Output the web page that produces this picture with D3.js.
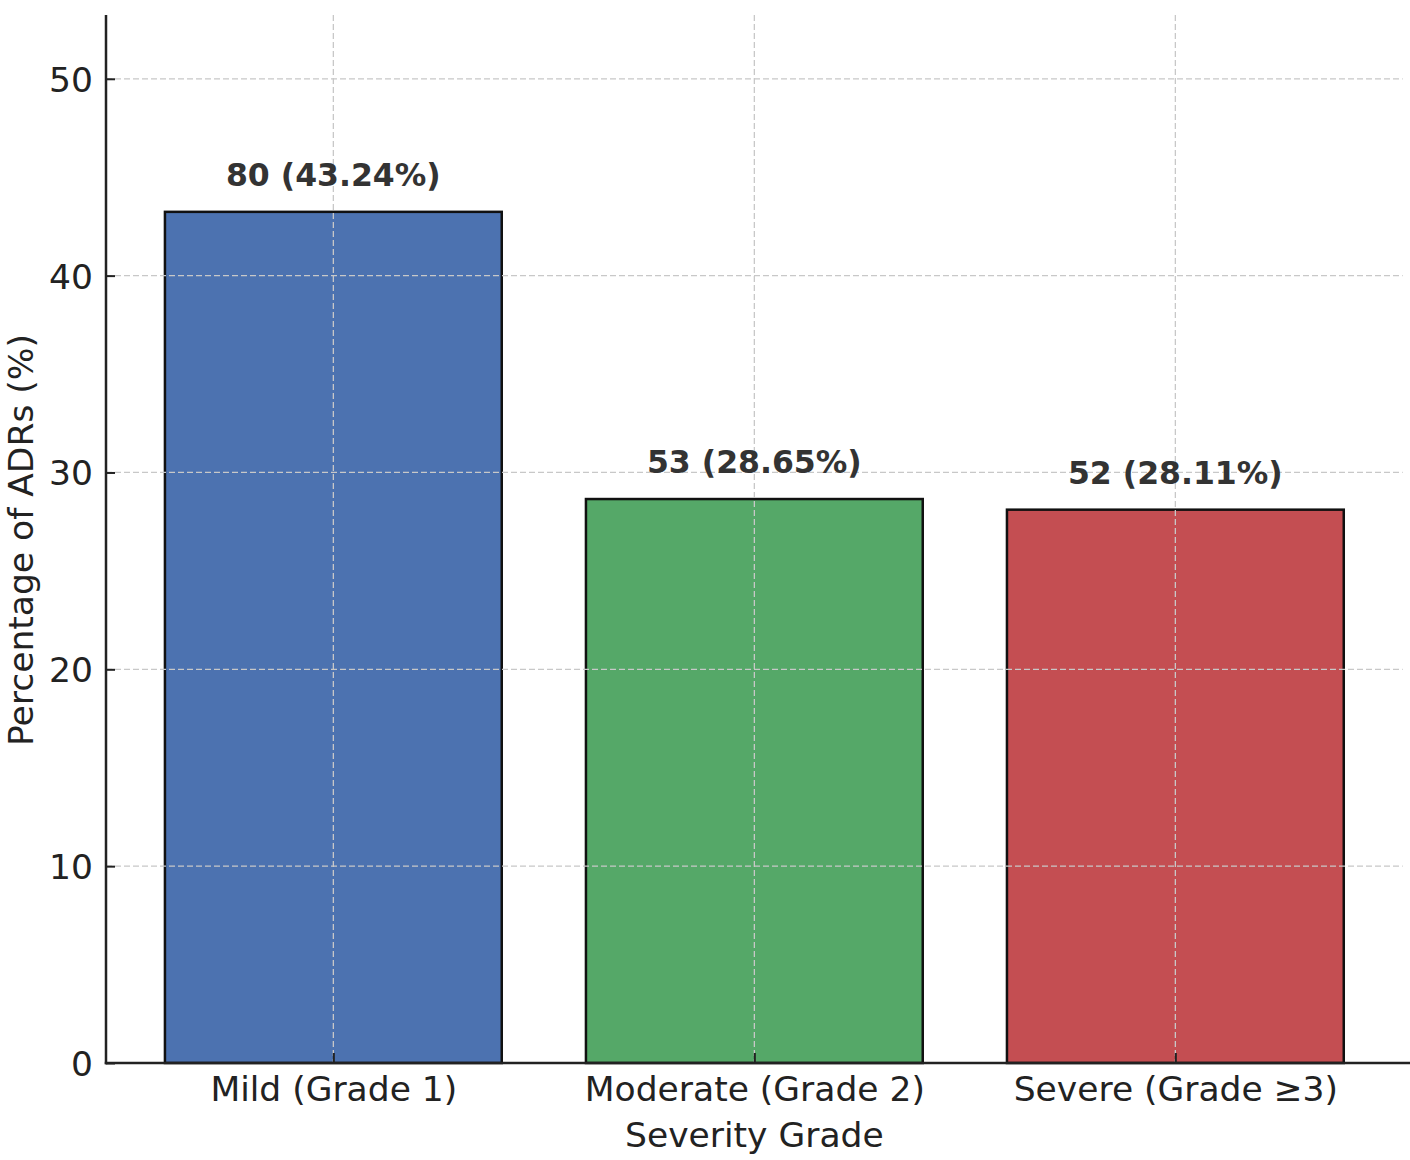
<!DOCTYPE html>
<html>
<head>
<meta charset="utf-8">
<script src="https://cdn.jsdelivr.net/npm/d3@7"></script>
<style>
  html, body { margin: 0; padding: 0; background: #fff; }
  svg { display: block; }
  text { font-family: "DejaVu Sans", sans-serif; }
</style>
</head>
<body>
<svg id="chart" width="1410" height="1160"></svg>
<script>
const categories = ["Mild (Grade 1)", "Moderate (Grade 2)", "Severe (Grade \u22653)"];
const counts = [80, 53, 52];
const percents = [43.24, 28.65, 28.11];
const colors = ["#4C72B0", "#55A868", "#C44E52"];
const yTicks = [0, 10, 20, 30, 40, 50];
const yLabel = "Percentage of ADRs (%)";
const xLabel = "Severity Grade";

const svg = d3.select("#chart");
const mLeft = 106, mRight = 1402.7, mTop = 15, mBottom = 1063;

const x = d3.scaleLinear().domain([-0.54, 2.54]).range([mLeft, mRight]);
const y = d3.scaleLinear().domain([0, d3.max(percents) + 10]).range([mBottom, mTop]);
const barW = x(0.4) - x(-0.4);

// bars
svg.append("g").selectAll("rect")
  .data(percents)
  .join("rect")
  .attr("x", (d, i) => x(i) - barW / 2)
  .attr("y", d => y(d))
  .attr("width", barW)
  .attr("height", d => y(0) - y(d))
  .attr("fill", (d, i) => colors[i])
  .attr("stroke", "#111")
  .attr("stroke-width", 2.5);

// grid (drawn above bars)
const grid = svg.append("g").attr("stroke", "#c8c8c8").attr("stroke-width", 1.3)
  .attr("stroke-dasharray", "6,3");
grid.selectAll("line.h").data(yTicks.filter(t => t > 0)).join("line")
  .attr("class", "h")
  .attr("x1", mLeft).attr("x2", mRight)
  .attr("y1", d => y(d)).attr("y2", d => y(d));
grid.selectAll("line.v").data(categories).join("line")
  .attr("class", "v")
  .attr("x1", (d, i) => x(i)).attr("x2", (d, i) => x(i))
  .attr("y1", mTop).attr("y2", mBottom);

// y axis
const yAxis = d3.axisLeft(y).tickValues(yTicks).tickSize(-9).tickPadding(13).tickFormat(d3.format("d"));
const gy = svg.append("g").attr("transform", `translate(${mLeft},0)`).call(yAxis);
gy.select(".domain").remove();
gy.selectAll(".tick line").attr("stroke", "#222").attr("stroke-width", 2);
gy.selectAll(".tick text").attr("font-size", 34.5).attr("fill", "#222")
  .attr("font-family", "DejaVu Sans").attr("dy", "0.36em");

// x axis
const xAxis = d3.axisBottom(x).tickValues([0, 1, 2]).tickSize(-10).tickPadding(0)
  .tickFormat(i => categories[i]);
const gx = svg.append("g").attr("transform", `translate(0,${mBottom})`).call(xAxis);
gx.select(".domain").remove();
gx.selectAll(".tick line").attr("stroke", "#222").attr("stroke-width", 2);
gx.selectAll(".tick text").attr("font-size", 34.5).attr("fill", "#222")
  .attr("font-family", "DejaVu Sans").attr("dy", null).attr("y", 38);

// spines
svg.append("line").attr("x1", mLeft).attr("x2", mLeft).attr("y1", mTop).attr("y2", mBottom + 1.25)
  .attr("stroke", "#222").attr("stroke-width", 2.5);
svg.append("line").attr("x1", mLeft - 1.25).attr("x2", 1410).attr("y1", mBottom).attr("y2", mBottom)
  .attr("stroke", "#222").attr("stroke-width", 2.5);

// bar labels
svg.append("g").selectAll("text")
  .data(percents)
  .join("text")
  .attr("x", (d, i) => x(i))
  .attr("y", d => y(d) - 26)
  .attr("text-anchor", "middle")
  .attr("font-size", 31.5)
  .attr("font-weight", "bold")
  .attr("fill", "#333")
  .text((d, i) => `${counts[i]} (${d.toFixed(2)}%)`);

// axis labels
svg.append("text")
  .attr("x", x(1)).attr("y", 1147)
  .attr("text-anchor", "middle")
  .attr("font-size", 34.5).attr("fill", "#222")
  .text(xLabel);
svg.append("text")
  .attr("transform", `translate(33,${(mTop + mBottom) / 2 + 1}) rotate(-90)`)
  .attr("text-anchor", "middle")
  .attr("font-size", 34.5).attr("fill", "#222")
  .text(yLabel);
</script>
</body>
</html>
